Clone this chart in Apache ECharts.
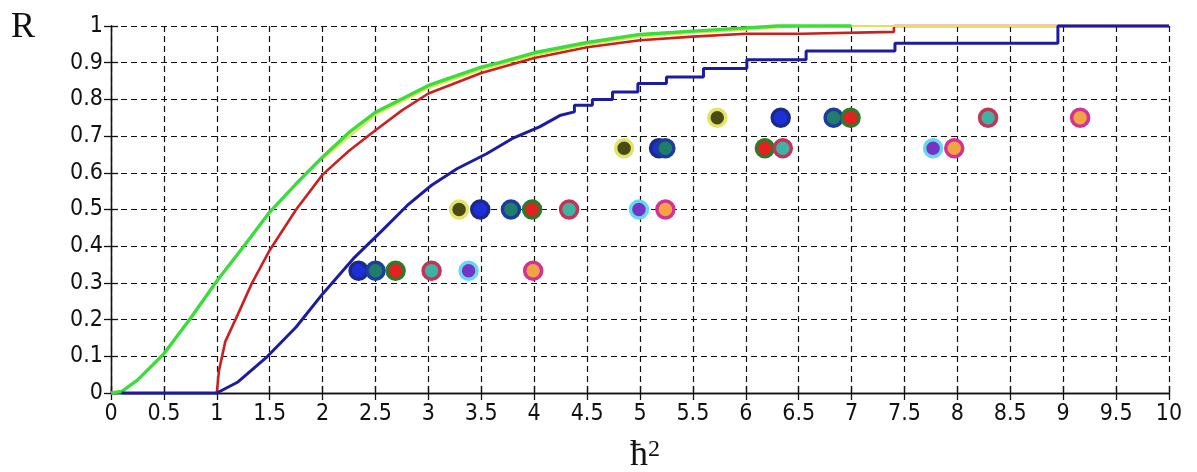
<!DOCTYPE html>
<html><head><meta charset="utf-8">
<script src="https://cdn.jsdelivr.net/npm/echarts@6/dist/echarts.min.js"></script>
<style>html,body{margin:0;padding:0;background:#fff}#c{width:1197px;height:472px}</style>
</head><body><div id="c"></div>
<script>
// ---- data ----
const xMin = 0, xMax = 10, xStep = 0.5;
const yMin = 0, yMax = 1, yStep = 0.1;

const greenCurve = [[0,0],[0.1,0.004],[0.25,0.035],[0.5,0.107],[0.75,0.203],[1,0.305],[1.25,0.398],[1.5,0.493],[1.75,0.57],[2,0.643],[2.25,0.71],[2.5,0.765],[3,0.838],[3.5,0.888],[3.67,0.9],[4,0.927],[4.5,0.955],[5,0.977],[5.5,0.986],[6,0.995],[6.3,1],[7,1]];
const yellowCurve = [[2,0.638],[2.5,0.758],[3,0.831],[3.5,0.881],[4,0.92],[4.5,0.949],[5,0.971],[5.5,0.981],[6,0.99],[6.5,1],[8.95,1]];
const redCurve = [[1,0],[1.02,0.06],[1.08,0.14],[1.2,0.215],[1.33,0.298],[1.5,0.389],[1.75,0.5],[2,0.595],[2.25,0.66],[2.5,0.716],[2.75,0.77],[3,0.816],[3.5,0.872],[4,0.913],[4.5,0.942],[5,0.961],[5.5,0.971],[6,0.979],[6.53,0.979],[6.53,0.984],[7.4,0.984],[7.4,1],[10,1]];
const blueCurve = [[0.1,0],[1,0],[1.2,0.03],[1.48,0.10],[1.75,0.18],[2,0.27],[2.29,0.366],[2.55,0.439],[2.8,0.511],[3.03,0.566],[3.27,0.611],[3.55,0.652],[3.79,0.693],[4.05,0.725],[4.25,0.757],[4.38,0.766],[4.38,0.784],[4.55,0.784],[4.55,0.80],[4.74,0.80],[4.74,0.82],[4.98,0.82],[4.98,0.843],[5.25,0.843],[5.25,0.861],[5.6,0.861],[5.6,0.884],[6.01,0.884],[6.01,0.908],[6.57,0.908],[6.57,0.932],[7.41,0.932],[7.41,0.953],[8.95,0.953],[8.95,1],[10,1]];

const pointsA = [[3.29,0.5],[4.85,0.667],[5.73,0.75]];
const pointsB = [[2.34,0.333],[3.49,0.5],[5.18,0.667],[6.33,0.75]];
const pointsC = [[2.5,0.333],[3.78,0.5],[5.24,0.667],[6.83,0.75]];
const pointsD = [[2.69,0.333],[3.98,0.5],[6.18,0.667],[6.99,0.75]];
const pointsE = [[3.03,0.333],[4.33,0.5],[6.35,0.667],[8.29,0.75]];
const pointsF = [[3.38,0.333],[4.99,0.5],[7.77,0.667]];
const pointsG = [[3.99,0.333],[5.24,0.5],[7.97,0.667],[9.16,0.75]];

const xLabel = 'ħ';
const yLabel = 'R';

// ---- chart ----
const tickFont = 'Liberation Sans Narrow, DejaVu Sans Condensed, Arial Narrow, sans-serif';
const gridDash = { color: '#111', width: 1.2, type: [6, 4] };
const border = { show: true, lineStyle: { color: '#111', width: 1.3 } };
const tick = { show: true, inside: true, length: 7, lineStyle: { color: '#111', width: 1.3 } };

function markerSeries(data, edge, fill) {
  return {
    type: 'scatter', data: data, symbol: 'circle', symbolSize: 17, z: 5,
    itemStyle: { color: fill, borderColor: edge, borderWidth: 3.5, opacity: 1 }
  };
}
function lineSeries(data, color, width, z) {
  return {
    type: 'line', data: data, showSymbol: false, symbol: 'none', clip: false, z: z,
    lineStyle: { color: color, width: width }, animation: false
  };
}

const chart = echarts.init(document.getElementById('c'), null, { renderer: 'canvas' });
chart.setOption({
  animation: false,
  backgroundColor: '#fff',
  grid: { left: 111, right: 28, top: 26, bottom: 79 },
  xAxis: [{
    type: 'value', min: xMin, max: xMax, interval: xStep,
    axisLine: border, axisTick: tick,
    axisLabel: { color: '#111', fontFamily: tickFont, fontSize: 23, margin: 10 },
    splitLine: { show: true, lineStyle: gridDash }
  }, {
    type: 'value', min: xMin, max: xMax, interval: xStep, position: 'top',
    axisLine: border, axisTick: tick, axisLabel: { show: false }, splitLine: { show: false }
  }],
  yAxis: [{
    type: 'value', min: yMin, max: yMax, interval: yStep,
    axisLine: border, axisTick: tick,
    axisLabel: { color: '#111', fontFamily: tickFont, fontSize: 23, margin: 8 },
    splitLine: { show: true, lineStyle: gridDash }
  }, {
    type: 'value', min: yMin, max: yMax, interval: yStep, position: 'right',
    axisLine: border, axisTick: tick, axisLabel: { show: false }, splitLine: { show: false }
  }],
  graphic: [
    { type: 'text', left: 11, top: 10, style: { text: yLabel, font: '36px "Liberation Serif", "Times New Roman", serif', fill: '#111' } },
    { type: 'text', left: 630, top: 438, style: {
        text: '{a|' + xLabel + '}{b|2}',
        rich: {
          a: { font: '36px "Liberation Serif", "Times New Roman", serif', fill: '#111', verticalAlign: 'bottom' },
          b: { font: '24px "Liberation Serif", "Times New Roman", serif', fill: '#111', verticalAlign: 'top', padding: [0,0,12,0] }
        }
      } }
  ],
  series: [
    lineSeries(redCurve, '#cc2020', 2.6, 2),
    lineSeries(yellowCurve, '#e6df5a', 2.2, 2),
    lineSeries(greenCurve, '#3ddc3d', 3.4, 3),
    lineSeries(blueCurve, '#1c1ca0', 3, 4),
    markerSeries(pointsA, '#e4e46c', '#4a4a12'),
    markerSeries(pointsB, '#1a2a8a', '#1f2fd8'),
    markerSeries(pointsC, '#1d3c9c', '#1e7e6a'),
    markerSeries(pointsD, '#2e7a2a', '#e42020'),
    markerSeries(pointsE, '#c23458', '#3fb2a2'),
    markerSeries(pointsF, '#66d8f2', '#7434c4'),
    markerSeries(pointsG, '#d23294', '#f0a444')
  ]
});
</script>
</body></html>
